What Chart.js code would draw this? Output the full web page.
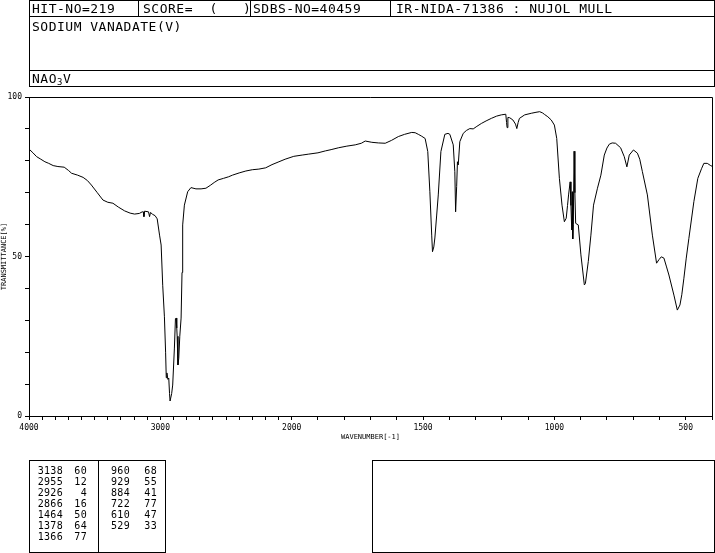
<!DOCTYPE html>
<html>
<head>
<meta charset="utf-8">
<script src="https://cdn.jsdelivr.net/npm/chart.js@4/dist/chart.umd.min.js"></script>
<style>
  html, body { margin:0; padding:0; background:#fff; }
  body { width:715px; height:553px; position:relative; overflow:hidden; font-family:"DejaVu Sans Mono", monospace; color:#000; }
  #c { position:absolute; left:0; top:0; }
  .ln { position:absolute; background:#000; }
  .hd { position:absolute; font-size:13px; letter-spacing:0.5px; white-space:pre; line-height:17px; }
  .pk { position:absolute; font-size:10px; letter-spacing:0.3px; white-space:pre; line-height:11px; text-align:right; }
  sub { font-size:9px; vertical-align:-2px; line-height:0; }
</style>
</head>
<body>
<canvas id="c" width="715" height="553"></canvas>

<!-- header frame -->
<div class="ln" style="left:29px;top:0;width:686px;height:1px"></div>
<div class="ln" style="left:29px;top:16px;width:686px;height:1px"></div>
<div class="ln" style="left:29px;top:70px;width:686px;height:1px"></div>
<div class="ln" style="left:29px;top:86px;width:686px;height:1px"></div>
<div class="ln" style="left:29px;top:0;width:1px;height:87px"></div>
<div class="ln" style="left:714px;top:0;width:1px;height:87px"></div>
<div class="ln" style="left:138px;top:0;width:1px;height:17px"></div>
<div class="ln" style="left:250px;top:0;width:1px;height:17px"></div>
<div class="ln" style="left:390px;top:0;width:1px;height:17px"></div>
<div class="hd" style="left:32px;top:0">HIT-NO=219</div>
<div class="hd" style="left:143px;top:0">SCORE=  (   )</div>
<div class="hd" style="left:253px;top:0">SDBS-NO=40459</div>
<div class="hd" style="left:396px;top:0">IR-NIDA-71386 : NUJOL MULL</div>
<div class="hd" style="left:32px;top:18px">SODIUM VANADATE(V)</div>
<div class="hd" style="left:32px;top:70px">NAO<sub>3</sub>V</div>

<!-- peak table frame -->
<div class="ln" style="left:29px;top:460px;width:137px;height:1px"></div>
<div class="ln" style="left:29px;top:552px;width:137px;height:1px"></div>
<div class="ln" style="left:29px;top:460px;width:1px;height:93px"></div>
<div class="ln" style="left:165px;top:460px;width:1px;height:93px"></div>
<div class="ln" style="left:98px;top:460px;width:1px;height:93px"></div>
<div id="peaks"></div>

<!-- empty right box -->
<div class="ln" style="left:372px;top:460px;width:343px;height:1px"></div>
<div class="ln" style="left:372px;top:552px;width:343px;height:1px"></div>
<div class="ln" style="left:372px;top:460px;width:1px;height:93px"></div>
<div class="ln" style="left:714px;top:460px;width:1px;height:93px"></div>

<script>
// ---- data ----
const wavenumbers = [
  4000,3970,3942,3910,3879,3850,3816,3780,3732,3700,3676,3630,3588,3555,3525,3480,3437,3400,3361,3320,
  3272,3230,3196,3160,3138,3130,3125,3120,3090,3082,3075,3058,3040,3024,3006,2994,2982,2969,2960,2955,
  2950,2943,2936,2930,2926,2920,2914,2906,2893,2885,2880,2875,2872,2866,2860,2852,2842,2835,2830,2817,
  2792,2767,2729,2690,2653,2620,2590,2560,2519,2480,2451,2400,2349,2300,2250,2198,2150,2097,2050,1992,
  1960,1935,1900,1872,1850,1821,1790,1758,1735,1720,1695,1670,1644,1620,1594,1570,1543,1530,1518,1505,
  1492,1482,1474,1467,1464,1459,1455,1448,1442,1432,1417,1405,1398,1385,1379,1376,1372,1369,1366,1360,
  1347,1335,1322,1309,1295,1278,1260,1240,1220,1202,1185,1182,1180,1177,1170,1158,1148,1143,1138,1133,
  1113,1088,1070,1056,1045,1037,1025,1012,1000,991,981,971,962,955,950,946,940,937,934,932,
  930,928,925,922,919,909,899,886,882,871,861,851,836,823,810,800,791,780,767,748,
  734,724,715,699,684,675,665,646,627,611,602,593,583,574,564,545,532,522,515,507,
  498,488,469,454,440,431,418,405,400
];
const transmittance = [
  83.7,82.5,81.3,80.5,79.7,79.2,78.5,78.2,78.0,77.0,76.1,75.5,74.8,73.8,72.4,70.0,67.7,67.0,66.7,65.5,
  64.3,63.6,63.3,63.5,64.0,64.0,62.5,64.2,64.0,62.5,63.8,63.2,62.8,61.8,56.7,53.6,41.0,31.1,20.0,12.0,
  13.5,11.5,11.9,7.0,4.7,4.7,7.0,9.7,21.3,30.5,30.7,27.6,25.0,16.0,18.0,25.0,30.7,45.0,59.9,66.1,
  70.3,71.6,71.2,71.2,71.4,72.3,73.2,74.0,74.5,75.0,75.5,76.2,76.8,77.2,77.4,77.8,78.8,79.7,80.5,81.4,
  81.8,82.1,82.5,83.1,83.5,84.1,84.6,85.0,85.5,86.2,85.8,85.6,85.5,86.4,87.6,88.3,88.9,88.8,88.3,87.7,
  87.0,82.9,70.3,56.7,51.5,53.0,55.8,63.0,69.3,82.9,88.3,88.6,88.3,85.0,76.6,64.0,72.0,79.7,78.7,86.0,
  88.6,89.5,90.1,90.0,90.8,91.7,92.5,93.3,94.0,94.4,94.6,92.0,90.4,93.6,93.5,92.8,91.5,90.1,92.0,93.3,
  94.4,94.9,95.2,95.4,95.0,94.5,93.8,92.8,91.2,87.0,74.5,66.1,60.9,62.0,66.0,69.3,73.4,66.0,58.3,70.3,
  55.5,60.0,83.0,70.0,60.4,59.9,50.5,41.1,41.5,48.4,56.7,66.1,71.4,75.5,81.8,84.0,85.2,85.6,85.5,84.1,
  81.3,78.1,81.8,83.4,82.4,80.5,76.6,69.3,56.7,47.9,49.0,49.9,49.5,47.0,44.2,37.9,33.2,34.8,38.0,43.2,
  49.5,55.7,67.2,74.5,77.5,79.2,79.2,78.5,78.3
];
const xTickLabels = [4000, 3000, 2000, 1500, 1000, 500];
const yTickLabels = [0, 50, 100];
const peakWavenumbers = [3138,2955,2926,2866,1464,1378,1366, 960,929,884,722,610,529];
const peakValues      = [60,12,4,16,50,64,77, 68,55,41,77,47,33];

// ---- peak table ----
(function(){
  const host = document.getElementById('peaks');
  let html = '';
  peakWavenumbers.forEach((w, i) => {
    const col = i < 7 ? 0 : 1;
    const row = col === 0 ? i : i - 7;
    const top = 465 + row * 11;
    const wnRight = col === 0 ? 63 : 130;
    const vRight = col === 0 ? 87 : 157;
    html += `<div class="pk" style="left:${wnRight-40}px;width:40px;top:${top}px">${w}</div>`;
    html += `<div class="pk" style="left:${vRight-20}px;width:20px;top:${top}px">${peakValues[i]}</div>`;
  });
  host.innerHTML = html;
})();

// ---- axis transform: 4000-2000 at half scale, 2000-400 full scale ----
function toX(wn){ return wn >= 2000 ? (4000 - wn) / 2 : 1000 + (2000 - wn); }
function fromX(x){ return x <= 1000 ? 4000 - 2 * x : 2000 - (x - 1000); }

const xTickWn = [];
for (let w = 4000; w >= 2000; w -= 100) xTickWn.push(w);
for (let w = 1900; w >= 400; w -= 100) xTickWn.push(w);

const points = wavenumbers.map((w, i) => ({ x: toX(w), y: transmittance[i] }));

const frame = {
  id: 'frame',
  afterDatasetsDraw(chart) {
    const { ctx, chartArea: a } = chart;
    ctx.save();
    ctx.strokeStyle = '#000';
    ctx.lineWidth = 1;
    ctx.beginPath();
    ctx.moveTo(a.left, a.top + 0.5);
    ctx.lineTo(a.right + 0.5, a.top + 0.5);
    ctx.lineTo(a.right + 0.5, a.bottom);
    ctx.stroke();
    ctx.restore();
  }
};

new Chart(document.getElementById('c'), {
  type: 'line',
  data: {
    datasets: [{
      data: points,
      borderColor: '#000',
      borderWidth: 1,
      pointRadius: 0,
      tension: 0,
      fill: false
    }]
  },
  options: {
    responsive: false,
    animation: false,
    events: [],
    layout: { padding: { top: 97, left: 0, right: 1, bottom: 112 } },
    plugins: { legend: { display: false }, tooltip: { enabled: false } },
    scales: {
      x: {
        type: 'linear',
        min: 0,
        max: 2600,
        afterFit(s) { s.height = 25; },
        afterBuildTicks(s) { s.ticks = xTickWn.map(w => ({ value: toX(w) })); },
        grid: { display: true, drawOnChartArea: false, drawTicks: true, tickLength: 4, color: '#000', lineWidth: 1 },
        border: { display: true, color: '#000', width: 1 },
        ticks: {
          autoSkip: false, maxRotation: 0, minRotation: 0, padding: 3,
          color: '#000',
          font: { family: 'DejaVu Sans Mono', size: 8 },
          callback(v) { const w = Math.round(fromX(v)); return xTickLabels.includes(w) ? String(w) : ''; }
        },
        title: {
          display: true, text: 'WAVENUMBER[-1]', color: '#000',
          font: { family: 'DejaVu Sans Mono', size: 7 },
          padding: { top: 0, bottom: 0 }
        }
      },
      y: {
        min: 0,
        max: 100,
        afterFit(s) { s.width = 29; },
        afterBuildTicks(s) { const t = []; for (let v = 0; v <= 100; v += 10) t.push({ value: v }); s.ticks = t; },
        grid: { display: true, drawOnChartArea: false, drawTicks: true, tickLength: 4, color: '#000', lineWidth: 1 },
        border: { display: true, color: '#000', width: 1 },
        ticks: {
          autoSkip: false, padding: 3, color: '#000',
          font: { family: 'DejaVu Sans Mono', size: 8 },
          callback(v) { return yTickLabels.includes(v) ? String(v) : ''; }
        },
        title: {
          display: true, text: 'TRANSMITTANCE[%]', color: '#000',
          font: { family: 'DejaVu Sans Mono', size: 7 },
          padding: { top: 0, bottom: 0 }
        }
      }
    }
  },
  plugins: [frame]
});
</script>
</body>
</html>
